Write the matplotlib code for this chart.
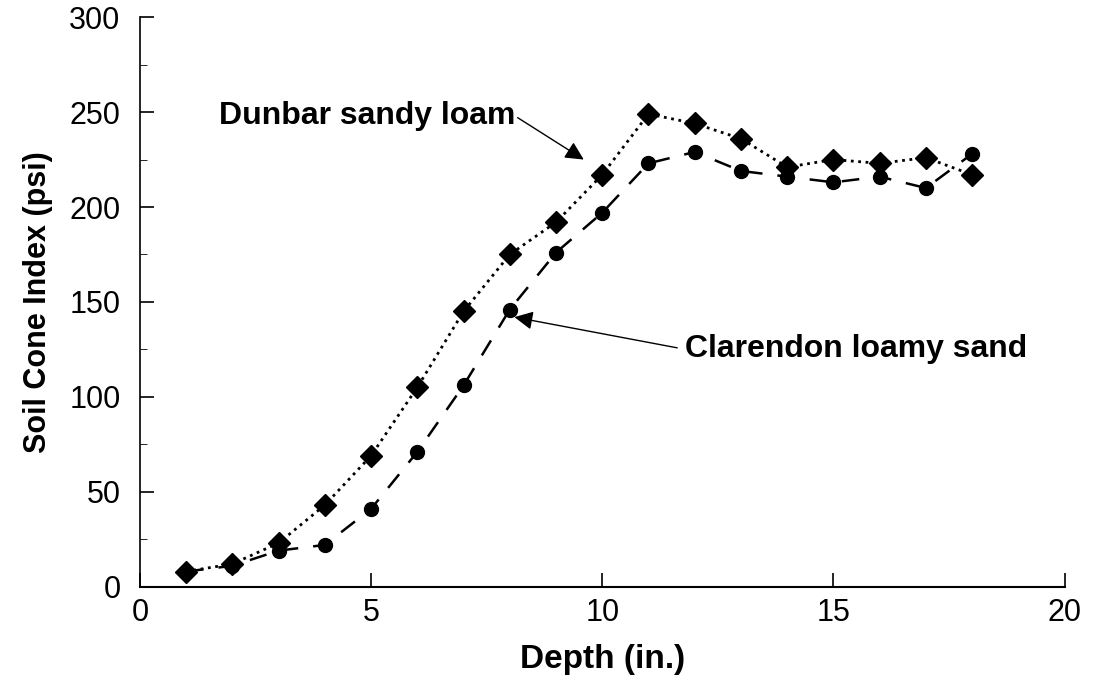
import matplotlib
matplotlib.use("Agg")
from matplotlib import pyplot as plt

plt.rcParams['font.family'] = ['Liberation Sans', 'DejaVu Sans']

depth = [1, 2, 3, 4, 5, 6, 7, 8, 9, 10, 11, 12, 13, 14, 15, 16, 17, 18]
dunbar = [8, 12, 23, 43, 69, 105, 145, 175, 192, 217, 249, 244, 236, 221, 225, 223, 226, 217]
clarendon = [8, 11, 19, 22, 41, 71, 106, 146, 176, 197, 223, 229, 219, 216, 213, 216, 210, 228]

x_ticks = [0, 5, 10, 15, 20]
y_ticks = [0, 50, 100, 150, 200, 250, 300]

fig = plt.figure(figsize=(10.93, 6.87), dpi=100)
ax = fig.add_axes([0.128, 0.146, 0.846, 0.829])

ax.plot(depth, dunbar, color="black", linestyle=":", linewidth=2,
        marker="D", markersize=11)
ax.plot(depth, clarendon, color="black", linestyle=(0, (7, 6)), linewidth=1.8,
        marker="o", markersize=10)

ax.set_xlim(0, 20)
ax.set_ylim(0, 300)
ax.set_xticks(x_ticks)
ax.set_yticks(y_ticks)
ax.set_yticks([25, 75, 125, 175, 225, 275], minor=True)
ax.tick_params(axis="both", direction="in", labelsize=22, length=10, width=1.2)
ax.tick_params(axis="y", which="minor", direction="in", length=5)
ax.tick_params(axis="x", pad=8)
ax.tick_params(axis="y", pad=14)
for s in ["top", "right"]:
    ax.spines[s].set_visible(False)
ax.spines["left"].set_linewidth(1.2)
ax.spines["bottom"].set_linewidth(1.5)

ax.set_xlabel("Depth (in.)", fontsize=24, fontweight="bold", labelpad=12)
ax.set_ylabel("Soil Cone Index (psi)", fontsize=22, fontweight="bold", labelpad=12)

ax.annotate("Dunbar sandy loam", xy=(9.6, 225), xytext=(1.7, 248),
            fontsize=23, fontweight="bold", va="center", ha="left",
            arrowprops=dict(arrowstyle="-|>", color="black", lw=1,
                            mutation_scale=28, shrinkA=0, shrinkB=0,
                            relpos=(1, 0.5)))
ax.annotate("Clarendon loamy sand", xy=(8.1, 142), xytext=(11.8, 125),
            fontsize=23, fontweight="bold", va="center", ha="left",
            arrowprops=dict(arrowstyle="-|>", color="black", lw=1,
                            mutation_scale=28, shrinkA=4, shrinkB=0,
                            relpos=(0, 0.5)))

fig.savefig("out.png", dpi=100)
